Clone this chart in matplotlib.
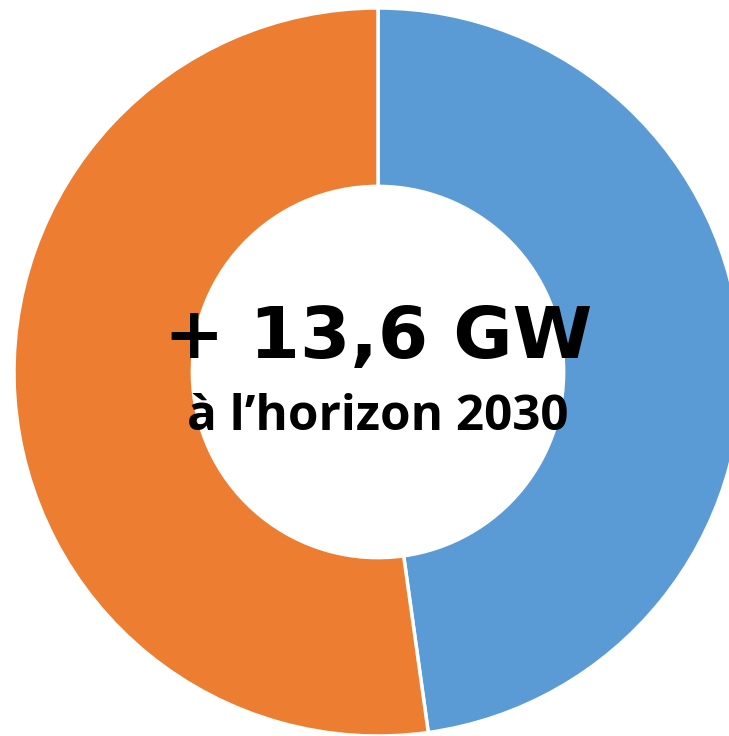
import matplotlib.pyplot as plt

# part du total (GW)
labels = ['Bleu', 'Orange']
values = [6.5, 7.1]
colors = ['#5B9BD5', '#ED7D31']
title_main = '+ 13,6 GW'
title_sub = 'à l\u2019horizon 2030'

fig = plt.figure(figsize=(7.29, 7.36), dpi=100)
ax = fig.add_axes([0, 0, 1, 1])

# cercle centré en (378, 372) px, rayon 364 px
cx, cy, r = 378, 372, 364

ax.pie(values, colors=colors, startangle=90, counterclock=False,
       radius=1.0, wedgeprops=dict(width=0.49, edgecolor='white', linewidth=2.5))
ax.set_xlim(-cx / r, (729 - cx) / r)
ax.set_ylim((cy - 736) / r, cy / r)
ax.set_aspect('auto')
ax.axis('off')

ax.text(0, (cy - 358) / r, title_main, ha='center', va='baseline',
        fontsize=52, fontweight='bold', family='DejaVu Sans')
ax.text(0, (cy - 430) / r, title_sub, ha='center', va='baseline',
        fontsize=35.5, fontweight='bold', family='Open Sans')

fig.savefig('out.png', dpi=100)
